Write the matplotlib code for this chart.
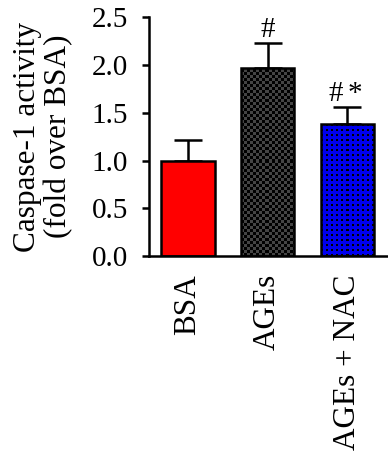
import numpy as np
import matplotlib
matplotlib.use("Agg")
import matplotlib.pyplot as plt

groups = ["BSA", "AGEs", "AGEs + NAC"]
means = [1.0, 1.97, 1.38]
errs = [0.22, 0.26, 0.18]
marks = ["", "#", "#*"]
yticks = [0.0, 0.5, 1.0, 1.5, 2.0, 2.5]

plt.rcParams["font.family"] = ["Liberation Serif", "DejaVu Serif"]

fig = plt.figure(figsize=(3.88, 4.55), dpi=100)
ax = fig.add_axes([0.384, 0.437, 0.616, 0.525])

x = np.arange(len(groups))
bars = ax.bar(x, means, width=0.67, color=["#ff0000", "#333333", "#0000e6"],
              edgecolor="black", linewidth=1.8, zorder=2)
ax.errorbar(x, means, yerr=[np.zeros(len(errs)), errs], fmt="none",
            ecolor="black", elinewidth=1.8, capsize=9.8, capthick=1.8, zorder=1)

ax.set_xlim(-0.49, 2.51)
ax.set_ylim(0, 2.5)
ax.set_yticks(yticks)
ax.set_yticklabels([f"{v:.1f}" for v in yticks])
ax.set_xticks(x)
ax.set_xticklabels(groups, rotation=90)
ax.tick_params(axis="x", length=0, pad=13, labelsize=22.5)
ax.set_xticks([1], minor=True)
ax.tick_params(axis="x", which="minor", length=7, width=1.8, direction="out")
ax.tick_params(axis="y", length=5, width=1.8, labelsize=21, pad=10)
ax.set_ylabel("Caspase-1 activity\n(fold over BSA)", fontsize=22.5, linespacing=1.1,
              labelpad=13)

for side in ("top", "right"):
    ax.spines[side].set_visible(False)
for side in ("left", "bottom"):
    ax.spines[side].set_linewidth(1.8)
ax.spines["left"].set_zorder(3)
ax.spines["bottom"].set_zorder(3)

# textures for the patterned bars, clipped to the bar shape
fig.canvas.draw()
def texture(bar, kind):
    x0, y0 = bar.get_x(), bar.get_y()
    x1, y1 = x0 + bar.get_width(), y0 + bar.get_height()
    (px0, py0), (px1, py1) = ax.transData.transform([(x0, y0), (x1, y1)])
    w, h = int(round(px1 - px0)), int(round(py1 - py0))
    jj, ii = np.meshgrid(np.arange(w), np.arange(h))
    img = np.zeros((h, w, 3))
    if kind == "check":
        on = ((ii // 3) + (jj // 3)) % 2 == 0
        img[:] = 0.0
        img[on] = 0.27
    else:
        img[:] = (0.0, 0.0, 0.93)
        dot = ((ii % 5) < 2) & ((jj % 5) < 2)
        img[dot] = 0.0
    im = ax.imshow(img, extent=(x0, x1, y0, y1), origin="lower",
                   interpolation="nearest", aspect="auto", zorder=2)
    im.set_clip_path(bar)
    bar.set_facecolor("none")
    bar.set_zorder(2.5)

texture(bars[1], "check")
texture(bars[2], "dots")
ax.set_xlim(-0.49, 2.51)
ax.set_ylim(0, 2.5)

for xi, m, e, lab in zip(x, means, errs, marks):
    top = m + e + 0.06
    if lab == "#":
        ax.text(xi, top, "#", ha="center", va="baseline", fontsize=21)
    elif lab == "#*":
        ax.text(xi - 0.14, top, "#", ha="center", va="baseline", fontsize=21)
        ax.text(xi + 0.1, top, "*", ha="center", va="baseline", fontsize=21)

fig.savefig("out.png", dpi=100)
